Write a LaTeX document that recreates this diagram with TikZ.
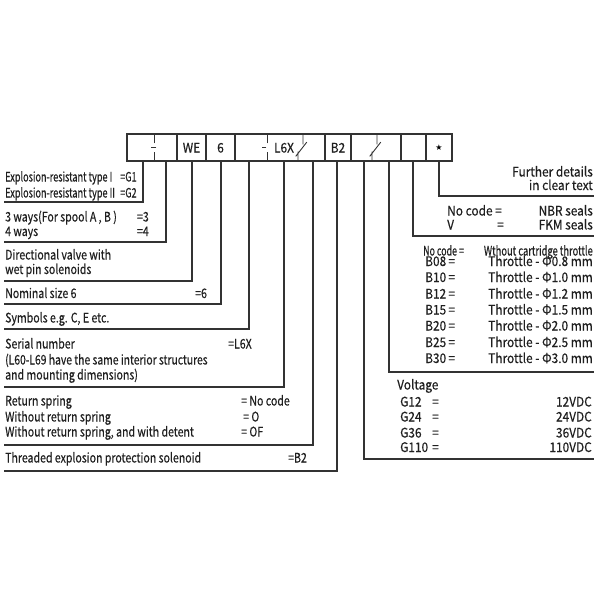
\documentclass[tikz,border=0pt]{standalone}
\usepackage{fontspec}
\usepackage{graphicx}
\setmainfont{Noto Sans CJK SC}[FakeStretch=0.80, FakeBold=0.4]
\newfontfamily\rfont{Noto Sans CJK SC}[FakeStretch=0.90, FakeBold=0.4]
\newfontfamily\symfont{DejaVu Sans}
\begin{document}
\begin{tikzpicture}[x=1pt,y=-1pt,
  ln/.style={line width=1.1pt, draw=black!80, line cap=rect},
  cellbox/.style={draw=black!80, line width=1.1pt, minimum height=27pt, inner sep=0pt, outer sep=0pt},
  tx/.style={inner sep=0pt, anchor=base west, font=\fontsize{13.2}{14}\selectfont, text=black!88},
  txr/.style={tx, anchor=base east},
  rtx/.style={tx, font=\rfont\fontsize{13.2}{14}\selectfont},
  rtxr/.style={rtx, anchor=base east},
  cond/.style={tx, font=\fontsize{13}{13}\selectfont},
  condr/.style={cond, anchor=base east}]
\fill[white] (0,0) rectangle (600,600);
\useasboundingbox (0,0) rectangle (600,600);
% code boxes
\node[cellbox, minimum width=50pt] (c1) at (152,147.5) {};
\node[cellbox, minimum width=29pt] (c2) at (191.5,147.5) {};
\node[cellbox, minimum width=29pt] (c3) at (220.5,147.5) {};
\node[cellbox, minimum width=90pt] (c4) at (280,147.5) {};
\node[cellbox, minimum width=26pt] (c5) at (338,147.5) {};
\node[cellbox, minimum width=50pt] (c6) at (376,147.5) {};
\node[cellbox, minimum width=25pt] (c7) at (413.5,147.5) {};
\node[cellbox, minimum width=26pt] (c8) at (439,147.5) {};
\node[rtx, anchor=base] (wtxt) at (191.5,152.5) {WE};
\node[rtx, anchor=base] (ntxt) at (220.5,152.5) {6};
\node[rtx, anchor=base] (ltxt) at (284,152.5) {L6X};
\node[rtx, anchor=base] (btxt) at (338,152.5) {B2};
\node[inner sep=0pt] (star) at (439,148) {\symfont\fontsize{8}{8}\selectfont ★};
% marks in cells
\draw[ln, line width=0.9pt] (154,134) -- (154,143) (151,147.5) -- (156,147.5) (154,152) -- (154,161);
\draw[ln, line width=0.9pt] (267,134) -- (267,143) (262,147.5) -- (266,147.5) (267,152) -- (267,161);
\draw[ln, line width=0.9pt] (303,134) -- (303,144) (296,156) -- (306.5,142.5) (298,152) -- (298,161);
\draw[ln, line width=0.9pt] (377,134) -- (377,144) (370,156) -- (380.5,142.5) (372,152) -- (372,161);
% connector coordinates
\coordinate (a1) at (143,161); \coordinate (b1) at (5,202);
\coordinate (a2) at (166,161); \coordinate (b2) at (5,242);
\coordinate (a3) at (192,161); \coordinate (b3) at (5,281);
\coordinate (a4) at (221,161); \coordinate (b4) at (5,304);
\coordinate (a5) at (249,161); \coordinate (b5) at (5,329);
\coordinate (a6) at (284,161); \coordinate (b6) at (5,387);
\coordinate (a7) at (313,161); \coordinate (b7) at (5,445);
\coordinate (a8) at (337,161); \coordinate (b8) at (5,471);
\coordinate (a9) at (364,161); \coordinate (b9) at (593,459);
\coordinate (a10) at (389,161); \coordinate (b10) at (593,372);
\coordinate (a11) at (413,161); \coordinate (b11) at (593,236);
\coordinate (a12) at (439,161); \coordinate (b12) at (593,196);
\foreach \i in {1,...,12} {\draw[ln] (a\i) |- (b\i);}
% left texts
\node[cond] (g1) at (5,181.5) {\scalebox{0.88}[1]{Explosion-resistant type I}};
\node[cond] (g1e) at (120,181.5) {\scalebox{0.88}[1]{=G1}};
\node[cond] (g2) at (5,197.5) {\scalebox{0.88}[1]{Explosion-resistant type II}};
\node[cond] (g2e) at (120,197.5) {\scalebox{0.88}[1]{=G2}};
\node[tx] (w3) at (5,221.5) {3 ways(For spool A , B )};
\node[txr] (w3e) at (149,221.5) {=3};
\node[tx] (w4) at (5,236) {4 ways};
\node[txr] (w4e) at (149,236) {=4};
\node[tx] (d1) at (5,259.5) {Directional valve with};
\node[tx] (d2) at (5,274) {wet pin solenoids};
\node[tx] (ns) at (5,298) {Nominal size 6};
\node[tx] (nse) at (195,298) {=6};
\node[tx] (sy) at (5,322.5) {Symbols e.g. C, E etc.};
\node[tx] (sn1) at (5,348.5) {Serial number};
\node[tx] (sne) at (228,348.5) {=L6X};
\node[tx] (sn2) at (5,364.5) {\scalebox{0.98}[1]{(L60-L69 have the same interior structures}};
\node[tx] (sn3) at (5,379.5) {and mounting dimensions)};
\node[tx] (r1) at (5,405.5) {Return spring};
\node[tx] (r1e) at (241,405.5) {= No code};
\node[tx] (r2) at (5,421.5) {Without return spring};
\node[tx] (r2e) at (243,421.5) {= O};
\node[tx] (r3) at (5,436.5) {Without return spring, and with detent};
\node[tx] (r3e) at (241,436.5) {= OF};
\node[tx] (th) at (5,462.5) {Threaded explosion protection solenoid};
\node[tx] (the) at (288,462.5) {=B2};
% right texts
\node[rtxr] (f1) at (593,176.5) {Further details};
\node[rtxr] (f2) at (593,190) {in clear text};
\node[rtx] (s1) at (447,215.5) {No code =};
\node[rtxr] (s1e) at (593,215.5) {NBR seals};
\node[rtx] (s2) at (447,229.5) {V};
\node[rtx] (s2m) at (497,229.5) {=};
\node[rtxr] (s2e) at (593,229.5) {FKM seals};
\node[cond] (t0) at (423,255.5) {\scalebox{0.85}[1]{No code =}};
\node[condr] (t0e) at (593,255.5) {\scalebox{0.9}[1]{Wthout cartridge throttle}};
\foreach \c/\d/\yy [count=\k] in {B08/0.8/266,B10/1.0/282,B12/1.2/298.5,B15/1.5/314.5,B20/2.0/330.5,B25/2.5/347,B30/3.0/363} {
  \node[rtx] (tb\k) at (425,\yy) {\c\,=};
  \node[rtxr] (tv\k) at (593,\yy) {Throttle - Φ\d\ mm};
}
\node[rtx] (vo) at (397,389.5) {Voltage};
\foreach \g/\v/\yy [count=\k] in {G12/12/406.5,G24/24/421.5,G36/36/437.5,G110/110/452} {
  \node[rtx] (vg\k) at (400,\yy) {\g};
  \node[rtx] (vq\k) at (432,\yy) {=};
  \node[rtxr] (vv\k) at (592,\yy) {\v VDC};
}
\end{tikzpicture}
\end{document}
